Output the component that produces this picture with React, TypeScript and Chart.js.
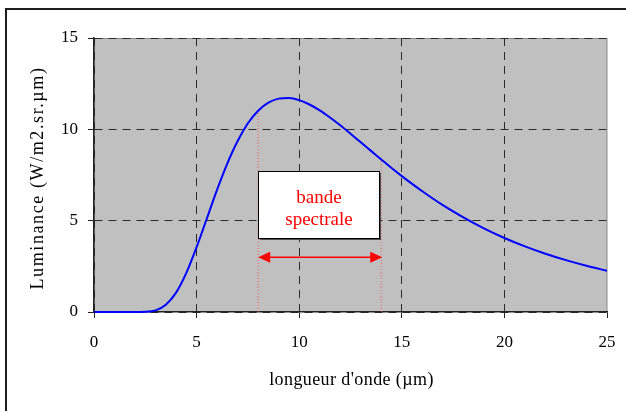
import { useEffect, useRef } from 'react';
import { Chart, registerables } from 'chart.js';

Chart.register(...registerables);

// Wavelength (µm) and spectral luminance (W/m2.sr.µm)
const wavelength = [0, 0.5, 1, 1.5, 2, 2.5, 3, 3.5, 4, 4.5, 5, 5.5, 6, 6.5, 7, 7.5, 8, 8.5, 9, 9.5, 10, 10.5, 11, 11.5, 12, 12.5, 13, 13.5, 14, 14.5, 15, 16, 17, 18, 19, 20, 21, 22, 23, 24, 25];
const luminance = [0, 0, 0, 0, 0, 0.01, 0.09, 0.4, 1.06, 2.14, 3.55, 5.12, 6.7, 8.14, 9.36, 10.33, 11.02, 11.46, 11.68, 11.72, 11.6, 11.36, 11.04, 10.65, 10.22, 9.76, 9.29, 8.82, 8.35, 7.88, 7.44, 6.61, 5.85, 5.18, 4.58, 4.05, 3.59, 3.19, 2.84, 2.53, 2.26];

const xTicks = [0, 5, 10, 15, 20, 25];
const yTicks = [0, 5, 10, 15];

// spectral band limits (µm) and level of the double arrow
const bandLimits = [8, 14];
const arrowLevel = 3;
const bandLabel = ['bande', 'spectrale'];

const xTitle = "longueur d'onde (µm)";
const yTitle = 'Luminance (W/m2.sr.µm)';

const SERIF = "'Liberation Serif', 'Times New Roman', serif";

const lumAt = (w: number) => luminance[wavelength.indexOf(w)];

const decor = {
  id: 'decor',
  beforeDraw(chart: any) {
    const { ctx, chartArea: a } = chart;
    ctx.save();
    ctx.fillStyle = '#c0c0c0';
    ctx.fillRect(a.left, a.top, a.right - a.left, a.bottom - a.top);
    ctx.strokeStyle = '#8a8a8a';
    ctx.lineWidth = 1;
    ctx.strokeRect(a.left + 0.5, a.top + 0.5, a.right - a.left - 0.5, a.bottom - a.top - 1);
    ctx.restore();
  },
  afterDatasetsDraw(chart: any) {
    const { ctx } = chart;
    const xs = chart.scales.x;
    const ys = chart.scales.y;
    const x1 = xs.getPixelForValue(bandLimits[0]);
    const x2 = xs.getPixelForValue(bandLimits[1]);
    const ay = ys.getPixelForValue(arrowLevel);
    ctx.save();
    // double arrow
    ctx.strokeStyle = '#ff0000';
    ctx.fillStyle = '#ff0000';
    ctx.lineWidth = 1.6;
    ctx.beginPath();
    ctx.moveTo(x1 + 8, ay);
    ctx.lineTo(x2 - 8, ay);
    ctx.stroke();
    const head = 12;
    const hw = 5.5;
    ctx.beginPath();
    ctx.moveTo(x1, ay);
    ctx.lineTo(x1 + head, ay - hw);
    ctx.lineTo(x1 + head, ay + hw);
    ctx.closePath();
    ctx.fill();
    ctx.beginPath();
    ctx.moveTo(x2 + 1, ay);
    ctx.lineTo(x2 + 1 - head, ay - hw);
    ctx.lineTo(x2 + 1 - head, ay + hw);
    ctx.closePath();
    ctx.fill();

    // label box
    const bx1 = Math.round(xs.getPixelForValue(7.99)) + 0.5;
    const bx2 = Math.round(xs.getPixelForValue(13.89)) + 0.5;
    const by1 = Math.round(ys.getPixelForValue(7.72)) + 0.5;
    const by2 = Math.round(ys.getPixelForValue(4.05)) + 0.5;
    ctx.fillStyle = '#505050';
    ctx.fillRect(bx1 + 1.5, by1 + 1.5, bx2 - bx1, by2 - by1);
    ctx.fillStyle = '#ffffff';
    ctx.fillRect(bx1, by1, bx2 - bx1, by2 - by1);
    ctx.strokeStyle = '#000000';
    ctx.lineWidth = 1;
    ctx.strokeRect(bx1, by1, bx2 - bx1, by2 - by1);
    ctx.fillStyle = '#ff0000';
    ctx.font = `19px ${SERIF}`;
    ctx.textAlign = 'center';
    ctx.textBaseline = 'alphabetic';
    const cx = (bx1 + bx2) / 2;
    ctx.fillText(bandLabel[0], cx, by1 + 31);
    ctx.fillText(bandLabel[1], cx, by1 + 53);
    ctx.restore();
  },
  afterDraw(chart: any) {
    const { ctx, chartArea: a } = chart;
    ctx.save();
    ctx.fillStyle = '#000000';
    ctx.textAlign = 'center';
    ctx.textBaseline = 'alphabetic';
    ctx.font = `18px ${SERIF}`;
    (ctx as any).letterSpacing = '0.4px';
    ctx.fillText(xTitle, (a.left + a.right) / 2 + 1, 385);
    ctx.translate(42.5, (a.top + a.bottom) / 2 + 3);
    ctx.rotate(-Math.PI / 2);
    (ctx as any).letterSpacing = '1.6px';
    ctx.fillText(yTitle, 0, 0);
    ctx.restore();
  },
};

export default function App() {
  const ref = useRef<HTMLCanvasElement | null>(null);

  useEffect(() => {
    if (!ref.current) return;
    const curve = wavelength.map((w, i) => ({ x: w, y: luminance[i] }));
    const bandLines = bandLimits.map((b) => ({
      type: 'line' as const,
      data: [
        { x: b, y: 0 },
        { x: b, y: lumAt(b) },
      ],
      borderColor: 'rgba(255,60,60,0.75)',
      borderWidth: 1,
      borderDash: [1, 2],
      pointRadius: 0,
      fill: false,
    }));
    const gridColor = (c: any) =>
      c.tick && (c.tick.value === xTicks[xTicks.length - 1] && c.scale.axis === 'x') ? 'rgba(0,0,0,0)' : '#2a2a2a';

    const chart = new Chart(ref.current, {
      type: 'line',
      data: {
        datasets: [
          {
            data: curve,
            borderColor: '#0000ff',
            borderWidth: 2,
            pointRadius: 0,
            cubicInterpolationMode: 'monotone',
            fill: false,
            clip: false,
          },
          ...bandLines,
        ] as any,
      },
      options: {
        animation: false,
        responsive: false,
        events: [],
        layout: { padding: { top: 38, right: 19, left: 0, bottom: 0 } },
        plugins: { legend: { display: false }, tooltip: { enabled: false } },
        scales: {
          x: {
            type: 'linear',
            min: xTicks[0],
            max: xTicks[xTicks.length - 1],
            afterBuildTicks: (s: any) => {
              s.ticks = xTicks.map((v) => ({ value: v }));
            },
            afterFit: (s: any) => {
              s.height = 99;
              s.paddingRight = 0;
              s.paddingLeft = 0;
            },
            ticks: {
              stepSize: 5,
              color: '#000',
              padding: 14,
              maxRotation: 0,
              font: { family: SERIF, size: 17 },
            },
            grid: {
              color: gridColor,
              lineWidth: 1,
              tickLength: 6,
              tickColor: '#222',
              tickBorderDash: [],
            },
            border: { display: true, color: '#222', width: 1.5, dash: [8, 6] },
          },
          y: {
            type: 'linear',
            min: yTicks[0],
            max: yTicks[yTicks.length - 1],
            afterBuildTicks: (s: any) => {
              s.ticks = yTicks.map((v) => ({ value: v }));
            },
            afterFit: (s: any) => {
              s.width = 94;
              s.paddingTop = 0;
              s.paddingBottom = 0;
            },
            ticks: {
              stepSize: 5,
              color: '#000',
              padding: 10,
              font: { family: SERIF, size: 17 },
            },
            grid: {
              color: gridColor,
              lineWidth: 1,
              tickLength: 6,
              tickColor: '#222',
              tickBorderDash: [],
            },
            border: { display: true, color: '#222', width: 1.5, dash: [8, 6] },
          },
        },
      } as any,
      plugins: [decor],
    });
    return () => chart.destroy();
  }, []);

  return (
    <div style={{ position: 'absolute', left: 0, top: 0, width: 626, height: 411, background: '#fff' }}>
      <div
        style={{
          position: 'absolute',
          left: 5,
          top: 8,
          width: 621,
          height: 403,
          boxSizing: 'border-box',
          borderLeft: '2px solid #1e1e1e',
          borderTop: '2px solid #1e1e1e',
        }}
      />
      <canvas ref={ref} width={626} height={411} style={{ position: 'absolute', left: 0, top: 0, display: 'block' }} />
    </div>
  );
}
